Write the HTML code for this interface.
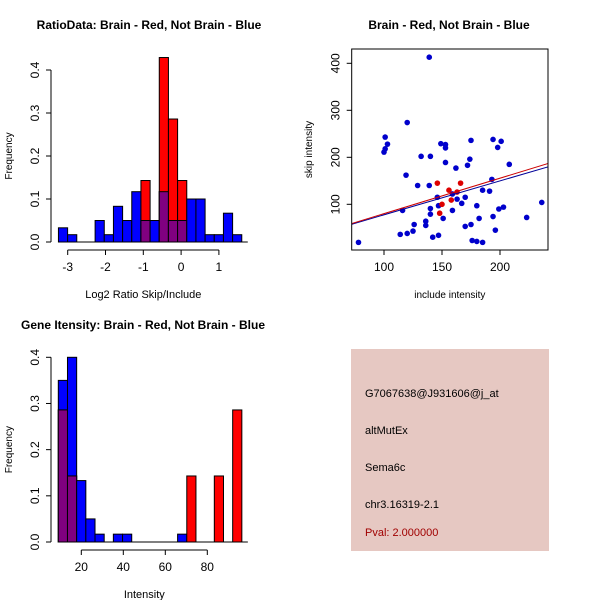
<!DOCTYPE html>
<html><head><meta charset="utf-8"><style>
body{margin:0;background:#fff}
svg{display:block;font-family:"Liberation Sans",sans-serif}
</style></head><body>
<svg id="c" width="600" height="600" viewBox="0 0 600 600">
<rect width="600" height="600" fill="#fff"/>
<text x="149" y="29" font-size="12" font-weight="bold" text-anchor="middle">RatioData: Brain - Red, Not Brain - Blue</text>
<text x="449" y="29" font-size="12" font-weight="bold" text-anchor="middle">Brain - Red, Not Brain - Blue</text>
<text x="143" y="329" font-size="12" font-weight="bold" text-anchor="middle">Gene Itensity: Brain - Red, Not Brain - Blue</text>
<g>
<rect x="351" y="349" width="198" height="202" fill="#e6c8c2"/>
<text x="365" y="397" font-size="11">G7067638@J931606@j_at</text>
<text x="365" y="434" font-size="11">altMutEx</text>
<text x="365" y="471" font-size="11">Sema6c</text>
<text x="365" y="508" font-size="11">chr3.16319-2.1</text>
<text x="365" y="536" font-size="11" fill="#a00000">Pval: 2.000000</text>
</g>
</svg>
<script>
// Histogram 1 data
const h1Blue=[0.033,0.017,0,0,0.05,0.017,0.083,0.05,0.117,0.05,0.05,0.117,0.05,0.05,0.1,0.1,0.017,0.017,0.067,0.017];
const h1Red=[0,0,0,0,0,0,0,0,0,0.143,0,0.429,0.286,0.143,0,0,0,0,0,0];
const h1XTicks=[-3,-2,-1,0,1];
const h1YTicks=[0,0.1,0.2,0.3,0.4];
// Scatter data
const scBlueX=[78,120,100,101,103,101,139,119,129,132,140,139,149,153,153,153,162,175,174,172,194,201,198,208,193,191,185,170,163,159,167,146,147,140,140,116,126,136,136,151,159,180,182,175,170,203,199,194,223,236,196,114,120,125,142,147,176,180,185];
const scBlueY=[19,274,211,218,228,243,413,162,140,202,202,140,229,227,220,189,177,236,196,183,238,234,221,185,153,128,130,115,111,122,102,115,97,91,79,87,57,64,55,70,87,97,70,57,53,94,90,74,72,104,45,36,38,43,30,34,23,21,19];
const scRedX=[146,156,166,163,158,150,148];
const scRedY=[145,130,145,126,109,100,81];
const fitRed=[4.6,0.755];
const fitBlue=[5.4,0.722];
const scXTicks=[100,150,200];
const scYTicks=[100,200,300,400];
// Histogram 3 data
const h3Blue=[0.35,0.4,0.133,0.05,0.017,0,0.017,0.017,0,0,0,0,0,0.017,0,0,0,0,0,0];
const h3Red=[0.286,0.143,0,0,0,0,0,0,0,0,0,0,0,0,0.143,0,0,0.143,0,0.286];
const h3XTicks=[20,40,60,80];
const h3YTicks=[0,0.1,0.2,0.3,0.4];

const svg=document.getElementById('c');
const NS='http://www.w3.org/2000/svg';
function mk(t,a,p){const e=document.createElementNS(NS,t);for(const k in a)e.setAttribute(k,a[k]);(p||svg).appendChild(e);return e;}
function txt(x,y,s,a,p){const e=mk('text',Object.assign({x:x,y:y,'font-size':12,'text-anchor':'middle'},a||{}),p);e.textContent=s;return e;}

function hist(opt){
  const g=mk('g',{});
  
  
  const xs=v=>opt.x0px+(v-opt.x0)*opt.xk;
  const ys=v=>opt.y0px-v*opt.yk;
  const n=opt.blue.length;
  for(let i=0;i<n;i++){
    const l=xs(opt.start+i*opt.w), r=xs(opt.start+(i+1)*opt.w);
    const b=opt.blue[i], rd=opt.red[i];
    if(b>0){const e=mk('rect',{x:l,y:ys(b),width:r-l,height:ys(0)-ys(b),fill:'#0000ff',stroke:'#000','stroke-width':1},g);
      }
    if(rd>0){const e=mk('rect',{x:l,y:ys(rd),width:r-l,height:ys(0)-ys(rd),fill:'#ff0000',stroke:'#000','stroke-width':1},g);
      }
    const m=Math.min(b,rd);
    if(m>0){const e=mk('rect',{x:l,y:ys(m),width:r-l,height:ys(0)-ys(m),fill:'#800080',stroke:'#000','stroke-width':1},g);
      }
  }
  mk('line',{x1:xs(opt.start),x2:xs(opt.start+n*opt.w)+6,y1:ys(0),y2:ys(0),stroke:'#000'},g);
  const xt=opt.xt, ay=ys(0)+8;
  mk('line',{x1:xs(xt[0]),x2:xs(xt[xt.length-1]),y1:ay,y2:ay,stroke:'#000'},g);
  xt.forEach(v=>{mk('line',{x1:xs(v),x2:xs(v),y1:ay,y2:ay+5,stroke:'#000'},g);txt(xs(v),ay+21,String(v),{},g);});
  const yt=opt.yt, ax=opt.yax;
  mk('line',{x1:ax,x2:ax,y1:ys(yt[0]),y2:ys(yt[yt.length-1]),stroke:'#000'},g);
  yt.forEach(v=>{mk('line',{x1:ax,x2:ax-5,y1:ys(v),y2:ys(v),stroke:'#000'},g);
    txt(0,0,v.toFixed(1),{transform:`translate(${ax-12},${ys(v)}) rotate(-90)`},g);});
  txt(opt.x0px+ (xs(xt[xt.length-1])-opt.x0px)/2,opt.xlabY,opt.xlab,{'font-size':11},g);
  txt(0,0,'Frequency',{transform:`translate(12,${(ys(0)+ys(0.4))/2}) rotate(-90)`,'font-size':10},g);
}
hist({name:'ratio-histogram',blue:h1Blue,red:h1Red,start:-3.245,w:0.2425,x0:-3,x0px:67.7,xk:37.8,y0px:242,yk:430,xt:h1XTicks,yt:h1YTicks,yax:51,xlab:'Log2 Ratio Skip/Include',xlabY:298});
hist({name:'intensity-histogram',blue:h3Blue,red:h3Red,start:9.05,w:4.37,x0:20,x0px:81.3,xk:2.1,y0px:542,yk:461.75,xt:h3XTicks,yt:h3YTicks,yax:51,xlab:'Intensity',xlabY:598});

(function(){
  const g=mk('g',{});
  
  
  const L=351.7,R=548,T=49,B=250;
  const xs=v=>384+(v-100)*1.16, ys=v=>204.3-(v-100)*0.47;
  const cp=mk('clipPath',{id:'cp'},g);mk('rect',{x:L,y:T,width:R-L,height:B-T},cp);
  scBlueX.forEach((x,i)=>{const e=mk('circle',{cx:xs(x),cy:ys(scBlueY[i]),r:2.8,fill:'#0000cc'},g);
    });
  scRedX.forEach((x,i)=>{const e=mk('circle',{cx:xs(x),cy:ys(scRedY[i]),r:2.8,fill:'#dd0000'},g);
    });
  const x1=60,x2=260;
  const lb=mk('line',{x1:xs(x1),x2:xs(x2),y1:ys(fitBlue[0]+fitBlue[1]*x1),y2:ys(fitBlue[0]+fitBlue[1]*x2),stroke:'#000099','stroke-width':1,'clip-path':'url(#cp)'},g);
  
  const lr=mk('line',{x1:xs(x1),x2:xs(x2),y1:ys(fitRed[0]+fitRed[1]*x1),y2:ys(fitRed[0]+fitRed[1]*x2),stroke:'#cc0000','stroke-width':1,'clip-path':'url(#cp)'},g);
  
  mk('rect',{x:L,y:T,width:R-L,height:B-T,fill:'none',stroke:'#000'},g);
  scXTicks.forEach(v=>{mk('line',{x1:xs(v),x2:xs(v),y1:B,y2:B+5,stroke:'#000'},g);txt(xs(v),B+21,String(v),{},g);});
  scYTicks.forEach(v=>{mk('line',{x1:L,x2:L-5,y1:ys(v),y2:ys(v),stroke:'#000'},g);txt(0,0,String(v),{transform:`translate(${L-12},${ys(v)}) rotate(-90)`},g);});
  txt((L+R)/2,298,'include intensity',{'font-size':10},g);
  txt(0,0,'skip intensity',{transform:`translate(312,${(T+B)/2}) rotate(-90)`,'font-size':10},g);
})();
</script>
</body></html>
